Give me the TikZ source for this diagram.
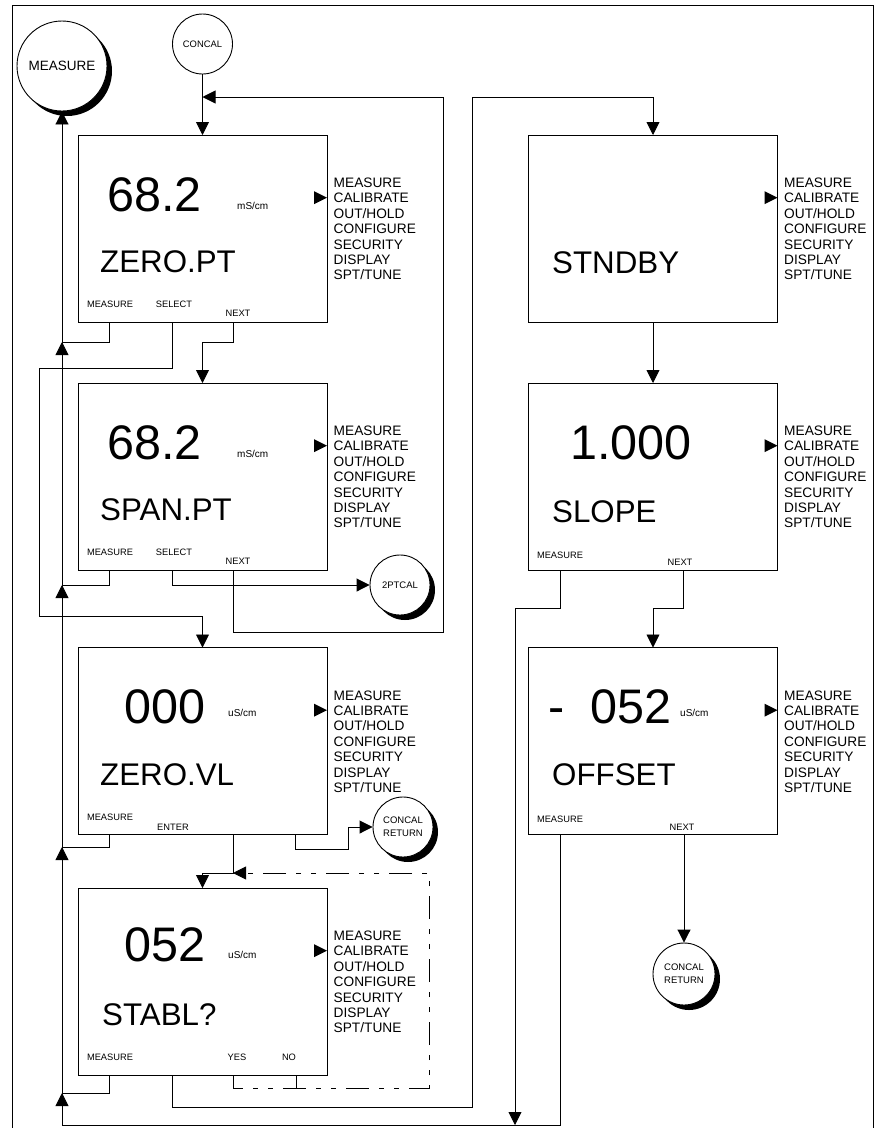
\documentclass[tikz,border=0pt]{standalone}
\usepackage{fontspec}
\setmainfont{Liberation Sans}
\usetikzlibrary{arrows.meta,shadows,calc}
\begin{document}
\begin{tikzpicture}[x=1pt,y=-1pt,
  lcdbox/.style={draw,line width=0.9pt,minimum width=249pt,minimum height=187pt,inner sep=0pt,outer sep=0pt},
  bignum/.style={anchor=west,inner sep=0pt,font=\fontsize{48.5}{48.5}\selectfont},
  bigtxt/.style={anchor=west,inner sep=0pt,font=\fontsize{31.3}{31.3}\selectfont},
  unittxt/.style={anchor=west,inner sep=0pt,font=\fontsize{10}{10}\selectfont},
  keytxt/.style={inner sep=0pt,font=\fontsize{9.3}{9.3}\selectfont},
  menutxt/.style={anchor=west,align=left,inner sep=0pt,font=\fontsize{13.7}{15.4}\selectfont},
  conn/.style={line width=0.9pt},
  arr/.style={conn,-{Triangle[length=13pt,width=13pt]}},
  dd/.style={dash pattern=on 23pt off 10pt on 5pt off 10pt on 5pt off 10pt},
  circ/.style={circle,draw,line width=0.9pt,fill=white,inner sep=0pt,align=center},
  shad/.style={drop shadow={shadow xshift=5pt,shadow yshift=-5pt,fill=black,opacity=1}}
]
\useasboundingbox (0,0) rectangle (879,1128);
% frame
\draw[conn] (12,1128) -- (12,5) -- (873,5) -- (873,1128);

% boxes
\node[lcdbox] (b1) at (202.5,228.5) {};
\node[lcdbox] (b2) at (202.5,476.5) {};
\node[lcdbox] (b3) at (202.5,741) {};
\node[lcdbox] (b4) at (202.5,981.5) {};
\node[lcdbox] (r1) at (653,228.5) {};
\node[lcdbox] (r2) at (653,476.5) {};
\node[lcdbox] (r3) at (653,741) {};

% menus and pointers
\foreach \b in {b1,b2,b3,b4,r1,r2,r3}{
  \node[menutxt] (m\b) at ($(\b.east)+(6.5,0.5)$) {MEASURE\\CALIBRATE\\OUT/HOLD\\CONFIGURE\\SECURITY\\DISPLAY\\SPT/TUNE};
  \fill ($(\b.east)+(0,-30.8)$) -- ++(-13,-6.5) -- ++(0,13) -- cycle;
}

% box 1
\node[bignum] (n1) at (107,195) {68.2};
\node[unittxt] (u1) at (237,206) {mS/cm};
\node[bigtxt] (t1) at (100,262) {ZERO.PT};
\node[keytxt] (k1a) at (110,304) {MEASURE};
\node[keytxt] (k1b) at (174,304) {SELECT};
\node[keytxt] (k1c) at (238,313) {NEXT};
% box 2
\node[bignum] (n2) at (107,443) {68.2};
\node[unittxt] (u2) at (237,454) {mS/cm};
\node[bigtxt] (t2) at (100,510) {SPAN.PT};
\node[keytxt] (k2a) at (110,552) {MEASURE};
\node[keytxt] (k2b) at (174,552) {SELECT};
\node[keytxt] (k2c) at (238,561) {NEXT};
% box 3
\node[bignum] (n3) at (124,707) {000};
\node[unittxt] (u3) at (228,713) {uS/cm};
\node[bigtxt] (t3) at (100,775) {ZERO.VL};
\node[keytxt] (k3a) at (110,817) {MEASURE};
\node[keytxt] (k3b) at (173,827) {ENTER};
% box 4
\node[bignum] (n4) at (124,945) {052};
\node[unittxt] (u4) at (228,955) {uS/cm};
\node[bigtxt] (t4) at (102,1015) {STABL?};
\node[keytxt] (k4a) at (110,1057) {MEASURE};
\node[keytxt] (k4b) at (237,1057) {YES};
\node[keytxt] (k4c) at (289,1057) {NO};
% right boxes
\node[bigtxt] (t5) at (552,263) {STNDBY};
\node[bignum] (n6) at (570,443) {1.000};
\node[bigtxt] (t6) at (552,512) {SLOPE};
\node[keytxt] (k6a) at (560,555) {MEASURE};
\node[keytxt] (k6b) at (680,562) {NEXT};
\node[bignum] (n7) at (548,707) {-\hspace{26pt}052};
\node[unittxt] (u7) at (680,713) {uS/cm};
\node[bigtxt] (t7) at (552,775) {OFFSET};
\node[keytxt] (k7a) at (560,819) {MEASURE};
\node[keytxt] (k7b) at (682,827) {NEXT};

% circles
\node[circ,shad,minimum size=90pt,font=\fontsize{13.5}{13.5}\selectfont] (ms) at (62,66) {MEASURE};
\node[circ,minimum size=60pt,font=\fontsize{9.4}{9.4}\selectfont] (cc) at (202.5,44) {CONCAL};
\node[circ,shad,minimum size=60pt,font=\fontsize{9.5}{9.5}\selectfont] (tp) at (400,585) {2PTCAL};
\node[circ,shad,minimum size=60pt,font=\fontsize{9.5}{13}\selectfont] (cr1) at (403,827) {CONCAL\\RETURN};
\node[circ,shad,minimum size=62pt,font=\fontsize{9.5}{13}\selectfont] (cr2) at (684,974) {CONCAL\\RETURN};

\coordinate (j1) at (202.5,97);

% connectors
\draw[arr] (cc) -- (b1.north);
\draw[arr] (b2.south -| 233,0) -- (233,632) -- (443,632) -- (443,97) -- (j1);
\draw[conn] (b1.south -| 109,0) -- (109,342) -- (62,342);
\draw[arr] (62,356) -- (62,342);
\draw[arr] (b1.south -| 172,0) -- (172,368) -- (39,368) -- (39,616) -- (202.5,616) -- (b3.north);
\draw[arr] (b1.south -| 233,0) -- (233,342) -- (202.5,342) -- (b2.north);
\draw[conn] (b2.south -| 109,0) -- (109,585) -- (62,585);
\draw[arr] (62,599) -- (62,585);
\draw[arr] (b2.south -| 172,0) -- (172,585) -- (tp.west);
\draw[conn] (b3.south -| 109,0) -- (109,847) -- (62,847);
\draw[arr] (62,861) -- (62,847);
\draw[arr] (b3.south -| 233,0) -- (233,873) -- (202.5,873) -- (b4.north);
\draw[arr] (b3.south -| 295,0) -- (295,849) -- (348,849) -- (348,827) -- (cr1.west);
\draw[arr,dd] (b4.south -| 233,0) -- (233,1088) -- (429,1088) -- (429,873) -- (233,873);
\draw[conn] (b4.south -| 296,0) -- (296,1088);
\draw[conn] (b4.south -| 109,0) -- (109,1093) -- (62,1093);
\draw[arr] (62,1107) -- (62,1093);
\draw[arr] (b4.south -| 172,0) -- (172,1107) -- (472,1107) -- (472,97) -- (653,97) -- (r1.north);
\draw[arr] (r1) -- (r2);
\draw[arr] (r2.south -| 560,0) -- (560,608) -- (515,608) -- (515,1125);
\draw[arr] (r2.south -| 683,0) -- (683,608) -- (653,608) -- (r3.north);
\draw[arr] (r3.south -| 684,0) -- (cr2.north);
\draw[arr] (r3.south -| 560,0) -- (560,1125) -- (62,1125) -- (ms.south);
\end{tikzpicture}
\end{document}
